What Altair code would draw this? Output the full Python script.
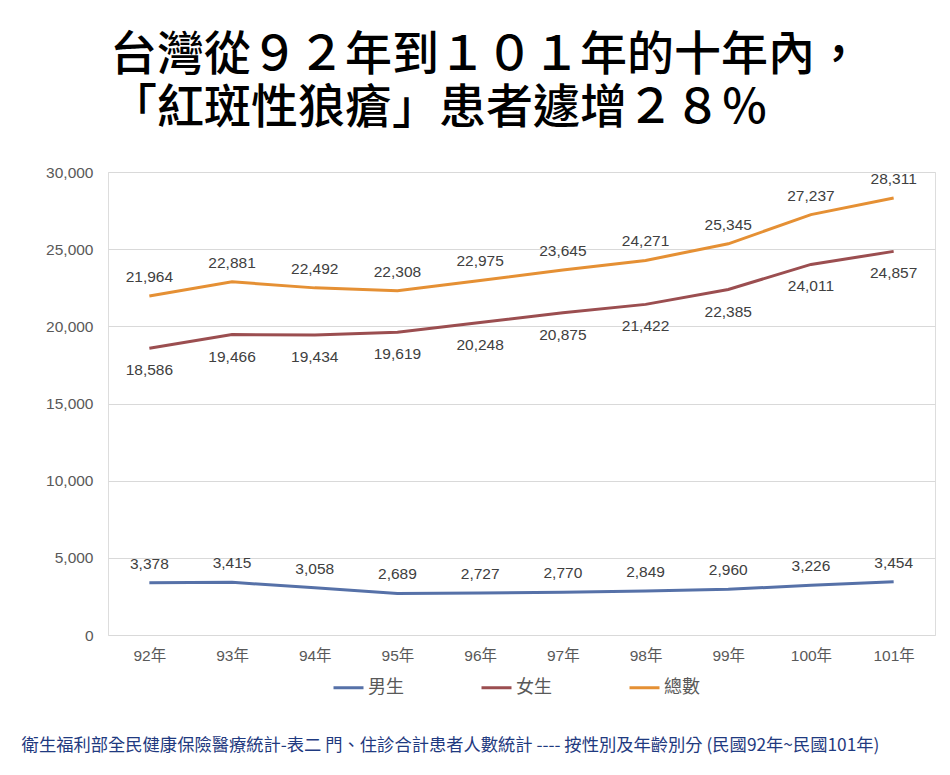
import altair as alt
import pandas as pd

years = ["92年", "93年", "94年", "95年", "96年", "97年", "98年", "99年", "100年", "101年"]
male = [3378, 3415, 3058, 2689, 2727, 2770, 2849, 2960, 3226, 3454]
female = [18586, 19466, 19434, 19619, 20248, 20875, 21422, 22385, 24011, 24857]
total = [21964, 22881, 22492, 22308, 22975, 23645, 24271, 25345, 27237, 28311]
series_names = ["男生", "女生", "總數"]
series_colors = ["#5671a8", "#9b4e50", "#e59034"]
title_lines = ["台灣從９２年到１０１年的十年內，", "「紅斑性狼瘡」患者遽增２８％"]
footer = "衛生福利部全民健康保險醫療統計-表二 門、住診合計患者人數統計 ---- 按性別及年齡別分 (民國92年~民國101年)"

rows = []
for name, vals in zip(series_names, [male, female, total]):
    for y, v in zip(years, vals):
        rows.append({"year": y, "series": name, "value": v})
df = pd.DataFrame(rows)

FONT = "Liberation Sans, Noto Sans CJK TC"
FS = 15.5

x = alt.X("year:N", sort=years,
          scale=alt.Scale(type="point", padding=0.5),
          axis=alt.Axis(title=footer, labelAngle=0, labelFontSize=FS, labelColor="#595959",
                        labelFont=FONT, labelPadding=13, domain=False, ticks=False, grid=False,
                        titleFont="Noto Sans CJK TC", titleFontSize=17.3, titleColor="#1f3a80",
                        titleFontWeight="normal", titleX=342, titleY=110,
                        titleAlign="center", titleBaseline="middle"))
y = alt.Y("value:Q", scale=alt.Scale(domain=[0, 30000], nice=False),
          axis=alt.Axis(title=None, values=[0, 5000, 10000, 15000, 20000, 25000, 30000],
                        format=",.0f", labelFontSize=FS, labelColor="#595959", labelFont=FONT,
                        labelPadding=15, domain=False, ticks=False, gridColor="#d9d9d9"))
color = alt.Color("series:N", sort=series_names,
                  scale=alt.Scale(domain=series_names, range=series_colors),
                  legend=alt.Legend(title=None, orient="none", direction="horizontal",
                                    legendX=224, legendY=499, symbolType="stroke",
                                    symbolSize=900, symbolStrokeWidth=3, labelFontSize=18,
                                    labelFont="Noto Sans CJK TC", labelColor="#595959",
                                    columnPadding=71, labelOffset=3))

base = alt.Chart(df)
lines = base.mark_line(strokeWidth=3).encode(x=x, y=y, color=color)

lab_common = dict(fontSize=FS, font=FONT, color="#404040")
above = base.transform_filter(alt.datum.series != "女生").mark_text(dy=-19, **lab_common).encode(
    x=x, y=y, text=alt.Text("value:Q", format=",.0f"))
below = base.transform_filter(alt.datum.series == "女生").mark_text(dy=22, **lab_common).encode(
    x=x, y=y, text=alt.Text("value:Q", format=",.0f"))

chart = alt.layer(lines, above, below).properties(
    width=827, height=463,
    title=alt.TitleParams(text=title_lines, anchor="start", frame="group", align="left",
                          font="Noto Sans CJK TC", fontSize=47, fontWeight=500,
                          color="#000000", lineHeight=53, offset=32, dx=2),
    autosize=alt.AutoSizeParams(type="none"),
    padding={"left": 100, "top": 164, "right": 7, "bottom": 125},
).configure_view(stroke=None).configure(background="white")

chart.save("out.html", embed_options={"renderer": "svg", "actions": False})
